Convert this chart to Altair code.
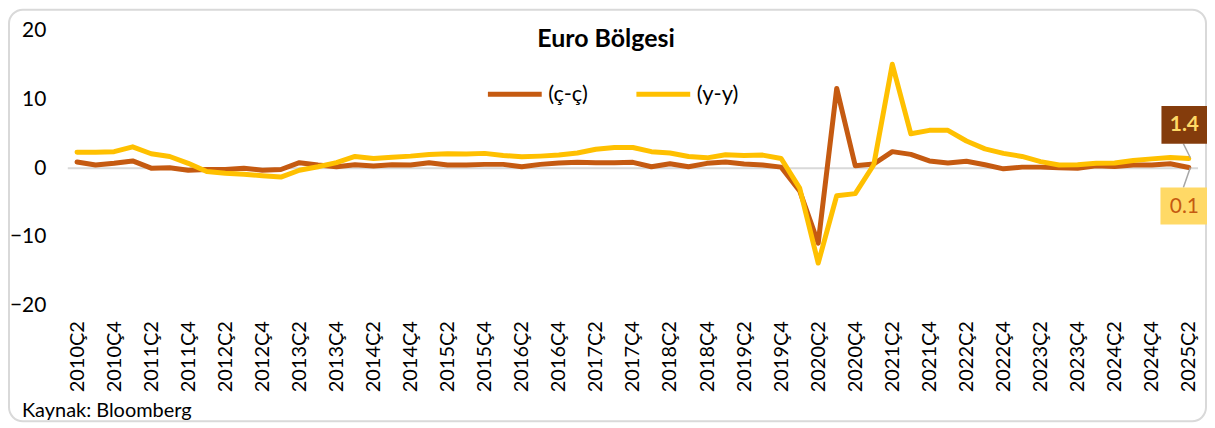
import altair as alt
import pandas as pd

# ---- data -------------------------------------------------------------
years = list(range(2010, 2026))
quarters = [f"{y}Ç{q}" for y in years for q in (1, 2, 3, 4)]
quarters = quarters[quarters.index("2010Ç2"):quarters.index("2025Ç2") + 1]
tick_labels = quarters[0::2]

qoq = [0.9, 0.45, 0.7, 1.05, 0.0, 0.05, -0.3, -0.2, -0.2, 0.0,
       -0.3, -0.2, 0.8, 0.45, 0.2, 0.5, 0.3, 0.5, 0.45, 0.8,
       0.45, 0.45, 0.55, 0.55, 0.2, 0.55, 0.75, 0.85, 0.8, 0.8,
       0.85, 0.2, 0.65, 0.2, 0.7, 0.9, 0.6, 0.45, 0.15, -3.3,
       -10.9, 11.6, 0.35, 0.6, 2.4, 2.0, 1.05, 0.75, 1.0, 0.5,
       -0.1, 0.15, 0.15, 0.05, 0.0, 0.35, 0.25, 0.45, 0.45, 0.65,
       0.1]
yoy = [2.3, 2.3, 2.4, 3.1, 2.1, 1.7, 0.7, -0.5, -0.75, -0.9,
       -1.1, -1.3, -0.3, 0.2, 0.8, 1.7, 1.4, 1.6, 1.75, 2.0,
       2.1, 2.05, 2.15, 1.85, 1.65, 1.75, 1.9, 2.2, 2.75, 3.0,
       3.0, 2.4, 2.2, 1.7, 1.5, 1.95, 1.85, 1.9, 1.4, -2.9,
       -13.8, -4.0, -3.7, 0.5, 15.1, 5.0, 5.5, 5.5, 3.95, 2.8,
       2.15, 1.7, 0.95, 0.45, 0.5, 0.7, 0.75, 1.1, 1.35, 1.55,
       1.4]
series = ["(ç-ç)", "(y-y)"]
colors = ["#C55A11", "#FFC000"]

df = pd.DataFrame({
    "ceyrek": quarters * 2,
    "deger": qoq + yoy,
    "seri": [series[0]] * len(qoq) + [series[1]] * len(yoy),
})
last_qoq = pd.DataFrame({"ceyrek": [quarters[-1]], "deger": [qoq[-1]]})
last_yoy = pd.DataFrame({"ceyrek": [quarters[-1]], "deger": [yoy[-1]]})
zero = pd.DataFrame({"deger": [0]})

FONT = "Lato"
W, H = 1134, 276
PAD_L, PAD_T = 60, 22
TOTAL_H = 416

xscale = alt.Scale(type="point", domain=quarters, padding=0.5)
yscale = alt.Scale(domain=[-20, 20], nice=False)

def xenc():
    return alt.X("ceyrek:N", scale=xscale, title=None,
                 axis=alt.Axis(values=tick_labels, labelAngle=270, ticks=False,
                               domain=False, grid=False, labelPadding=15,
                               labelFontSize=20, labelFont=FONT, labelColor="black",
                               labelOverlap=False, zindex=1))

def yenc():
    return alt.Y("deger:Q", scale=yscale, title=None,
                 axis=alt.Axis(values=[-20, -10, 0, 10, 20], ticks=False, domain=False,
                               grid=False, labelPadding=22, labelFontSize=21,
                               labelFont=FONT, labelColor="black", zindex=1))

frame = alt.Chart(zero).mark_rect(
    filled=False, stroke="#d9d9d9", strokeWidth=2, cornerRadius=14
).encode(x=alt.value(-59), x2=alt.value(1142), y=alt.value(-21),
         y2=alt.value(TOTAL_H - PAD_T - 2))

zero_line = alt.Chart(zero).mark_rule(color="#d9d9d9", strokeWidth=2).encode(
    y=yenc(), x=alt.value(0), x2=alt.value(W))

lines = alt.Chart(df).mark_line(strokeWidth=5, strokeCap="round", strokeJoin="round").encode(
    x=xenc(), y=yenc(),
    color=alt.Color("seri:N", scale=alt.Scale(domain=series, range=colors),
                    legend=alt.Legend(orient="none", legendX=419, legendY=34,
                                      direction="horizontal", title=None,
                                      symbolType="stroke", symbolSize=2916,
                                      symbolStrokeWidth=5, labelFontSize=22,
                                      labelFont=FONT, labelColor="black",
                                      columnPadding=38, labelOffset=4)),
    order=alt.Order("seri:N"),
)

title = alt.Chart(zero).mark_text(
    text="Euro Bölgesi", font=FONT, fontSize=25, fontWeight="bold",
    align="center", baseline="middle", color="black"
).encode(x=alt.value(540), y=alt.value(8))

source = alt.Chart(zero).mark_text(
    text="Kaynak: Bloomberg", font=FONT, fontSize=20, align="left",
    baseline="middle", color="black"
).encode(x=alt.value(-46), y=alt.value(382))

# last value labels
yoy_lead = alt.Chart(last_yoy).mark_rule(
    color="#a6a6a6", strokeWidth=1.5, xOffset=-5.4, yOffset=-14.8, x2Offset=1.6, y2Offset=-0.8
).encode(x=xenc(), x2="ceyrek:N", y=yenc(), y2="deger:Q")
yoy_box = alt.Chart(last_yoy).mark_rect(
    color="#843C0C", xOffset=-27.4, x2Offset=18.6, yOffset=-52.8, y2Offset=-14.8
).encode(x=xenc(), x2="ceyrek:N", y=yenc(), y2="deger:Q")
yoy_txt = alt.Chart(last_yoy).mark_text(
    font=FONT, fontSize=21, fontWeight="bold", color="#FFD966", dx=-4.4, dy=-33.8,
    align="center", baseline="middle"
).encode(x=xenc(), y=yenc(), text=alt.Text("deger:Q", format=".1f"))

qoq_lead = alt.Chart(last_qoq).mark_rule(
    color="#a6a6a6", strokeWidth=1.5, xOffset=1.6, yOffset=0, x2Offset=-5.4, y2Offset=20
).encode(x=xenc(), x2="ceyrek:N", y=yenc(), y2="deger:Q")
qoq_box = alt.Chart(last_qoq).mark_rect(
    color="#FFD966", xOffset=-28.4, x2Offset=18.6, yOffset=20.2, y2Offset=57.2
).encode(x=xenc(), x2="ceyrek:N", y=yenc(), y2="deger:Q")
qoq_txt = alt.Chart(last_qoq).mark_text(
    font=FONT, fontSize=21, color="#C55A11", dx=-4.4, dy=39.2,
    align="center", baseline="middle"
).encode(x=xenc(), y=yenc(), text=alt.Text("deger:Q", format=".1f"))

chart = alt.layer(
    frame, zero_line, lines, title, source,
    yoy_lead, yoy_box, yoy_txt, qoq_lead, qoq_box, qoq_txt
).properties(
    width=W, height=H,
    autosize=alt.AutoSizeParams(type="none"),
    padding={"left": PAD_L, "top": PAD_T, "right": 9, "bottom": TOTAL_H - PAD_T - H},
).configure(font=FONT).configure_view(stroke="transparent", strokeWidth=0)

chart.save("out.html", embed_options={"renderer": "svg", "actions": False})
